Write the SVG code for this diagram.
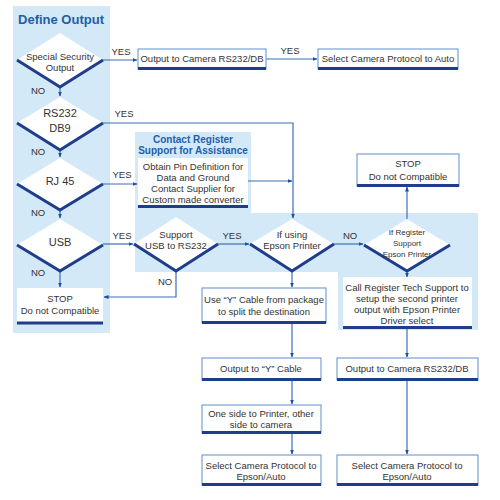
<svg xmlns="http://www.w3.org/2000/svg" width="500" height="500" viewBox="0 0 500 500">
<defs>
<marker id="ah" viewBox="0 0 10 10" refX="9" refY="5" markerWidth="5" markerHeight="5" orient="auto" markerUnits="userSpaceOnUse">
<path d="M0,1 L10,5 L0,9 z" fill="#1f4f9c"/>
</marker>
<style>
.panel{fill:#d3e9f8}
.box{fill:#fff;stroke:#5d8fcb;stroke-width:1}
.plain{fill:#fff}
.base{stroke:#1e3d8c;stroke-width:3;fill:none}
.dia{fill:#fff}
.dedge{stroke:#1e3d8c;stroke-width:3;fill:none;stroke-linejoin:miter}
.t{font-family:"Liberation Sans",Arial,sans-serif;font-size:9.5px;fill:#333;text-anchor:middle}
.tb{font-family:"Liberation Sans",Arial,sans-serif;font-size:11px;fill:#333;text-anchor:middle}
.ts{font-family:"Liberation Sans",Arial,sans-serif;font-size:8px;fill:#333;text-anchor:middle}
.lbl{font-family:"Liberation Sans",Arial,sans-serif;font-size:9.5px;fill:#333;text-anchor:middle}
.title{font-family:"Liberation Sans",Arial,sans-serif;font-weight:bold;fill:#1f5ea8}
.c{stroke:#3d6fb6;stroke-width:1.2;fill:none;marker-end:url(#ah)}
</style>
</defs>
<rect width="500" height="500" fill="#fff"/>
<g id="panels">
<rect class="panel" x="13" y="6" width="97" height="327"/>
<rect class="panel" x="135" y="132" width="116" height="82"/>
<rect class="panel" x="135" y="213" width="343" height="59"/>
<rect class="panel" x="338" y="213" width="140" height="117"/>
<text class="title" x="61" y="24" font-size="13" text-anchor="middle">Define Output</text>
<text class="title" x="193" y="143" font-size="10" text-anchor="middle">Contact Register</text>
<text class="title" x="193" y="154" font-size="10" text-anchor="middle">Support for Assistance</text>
</g>
<g id="connectors">
<path class="c" d="M103,60 H137"/>
<path class="c" d="M266,59 H317"/>
<path class="c" d="M60,87 V96"/>
<path class="c" d="M103,123 H293 V218"/>
<path class="c" d="M60,150 V157"/>
<path class="c" d="M103,184 H137"/>
<path class="c" d="M248,181 H292"/>
<path class="c" d="M60,210 V218"/>
<path class="c" d="M103,244 H133"/>
<path class="c" d="M60,271 V287"/>
<path class="c" d="M176,271 V297 H104"/>
<path class="c" d="M218,244 H249"/>
<path class="c" d="M334,244 H363"/>
<path class="c" d="M407,219 V187"/>
<path class="c" d="M407,271 V277"/>
<path class="c" d="M292,271 V287"/>
<path class="c" d="M292,323 V357"/>
<path class="c" d="M292,380 V404"/>
<path class="c" d="M292,433 V454"/>
<path class="c" d="M407,329 V357"/>
<path class="c" d="M407,380 V454"/>
<text class="lbl" x="121" y="55">YES</text>
<text class="lbl" x="290" y="54">YES</text>
<text class="lbl" x="38" y="94">NO</text>
<text class="lbl" x="124" y="117">YES</text>
<text class="lbl" x="38" y="155">NO</text>
<text class="lbl" x="122" y="178">YES</text>
<text class="lbl" x="38" y="216">NO</text>
<text class="lbl" x="122" y="239">YES</text>
<text class="lbl" x="38" y="276">NO</text>
<text class="lbl" x="165" y="285">NO</text>
<text class="lbl" x="232" y="239">YES</text>
<text class="lbl" x="350" y="239">NO</text>
</g>
<g id="d-special">
<polygon class="dia" points="60,33 103,60 60,87 17,60"/>
<polyline class="dedge" points="17,60 60,87 103,60"/>
<text class="t" x="60" y="60">Special Security</text>
<text class="t" x="60" y="71">Output</text>
</g>
<g id="d-rs232">
<polygon class="dia" points="60,97 103,123 60,150 17,123"/>
<polyline class="dedge" points="17,123 60,150 103,123"/>
<text class="tb" x="60" y="117">RS232</text>
<text class="tb" x="60" y="132">DB9</text>
</g>
<g id="d-rj45">
<polygon class="dia" points="60,158 103,184 60,210 17,184"/>
<polyline class="dedge" points="17,184 60,210 103,184"/>
<text class="tb" x="60" y="185">RJ 45</text>
</g>
<g id="d-usb">
<polygon class="dia" points="60,219 103,245 60,271 17,245"/>
<polyline class="dedge" points="17,245 60,271 103,245"/>
<text class="tb" x="60" y="246">USB</text>
</g>
<g id="stop-left">
<rect class="plain" x="17" y="288" width="86" height="36"/>
<line class="base" x1="17" y1="323" x2="103" y2="323"/>
<text class="t" x="60" y="302" font-size="10">STOP</text>
<text class="t" x="60" y="314" font-size="10">Do not Compatible</text>
</g>
<g id="out-cam-1">
<rect class="box" x="138" y="49" width="128" height="20"/>
<line class="base" x1="138" y1="68.5" x2="266" y2="68.5"/>
<text class="t" x="202" y="62">Output to Camera RS232/DB</text>
</g>
<g id="sel-auto">
<rect class="box" x="318" y="49" width="140" height="20"/>
<line class="base" x1="318" y1="68.5" x2="458" y2="68.5"/>
<text class="t" x="388" y="62">Select Camera Protocol to Auto</text>
</g>
<g id="contact">
<rect class="plain" x="138" y="158" width="110" height="49"/>
<line class="base" x1="138" y1="206.5" x2="248" y2="206.5"/>
<text class="t" x="193" y="170">Obtain Pin Definition for</text>
<text class="t" x="193" y="181">Data and Ground</text>
<text class="t" x="193" y="192">Contact Supplier for</text>
<text class="t" x="193" y="203">Custom made converter</text>
</g>
<g id="d-support">
<polygon class="dia" points="176,217 218,244 176,271 134,244"/>
<polyline class="dedge" points="134,244 176,271 218,244"/>
<text class="t" x="176" y="238">Support</text>
<text class="t" x="176" y="249">USB to RS232</text>
</g>
<g id="d-ifusing">
<polygon class="dia" points="292,219 334,244 292,271 250,244"/>
<polyline class="dedge" points="250,244 292,271 334,244"/>
<text class="t" x="292" y="238">If using</text>
<text class="t" x="292" y="249">Epson Printer</text>
</g>
<g id="d-ifregister">
<polygon class="dia" points="407,219 450,245 407,271 364,245"/>
<polyline class="dedge" points="364,245 407,271 450,245"/>
<text class="ts" x="407" y="235">If Register</text>
<text class="ts" x="407" y="246">Support</text>
<text class="ts" x="407" y="257">Epson Printer</text>
</g>
<g id="stop-right">
<rect class="box" x="357" y="154" width="102" height="32"/>
<line class="base" x1="357" y1="185.5" x2="459" y2="185.5"/>
<text class="t" x="408" y="167" font-size="10">STOP</text>
<text class="t" x="408" y="180" font-size="10">Do not Compatible</text>
</g>
<g id="call-register">
<rect class="plain" x="343" y="277" width="129" height="51"/>
<line class="base" x1="343" y1="327.5" x2="472" y2="327.5"/>
<text class="t" x="407" y="291">Call Register Tech Support to</text>
<text class="t" x="407" y="302">setup the second printer</text>
<text class="t" x="407" y="313">output with Epson Printer</text>
<text class="t" x="407" y="324">Driver select</text>
</g>
<g id="use-y">
<rect class="box" x="202" y="288" width="124" height="35"/>
<line class="base" x1="202" y1="322.5" x2="326" y2="322.5"/>
<text class="t" x="264" y="303">Use “Y” Cable from package</text>
<text class="t" x="264" y="315">to split the destination</text>
</g>
<g id="out-y">
<rect class="box" x="202" y="358" width="119" height="22"/>
<line class="base" x1="202" y1="379.5" x2="321" y2="379.5"/>
<text class="t" x="261" y="372">Output to “Y” Cable</text>
</g>
<g id="one-side">
<rect class="box" x="202" y="405" width="119" height="28"/>
<line class="base" x1="202" y1="432.5" x2="321" y2="432.5"/>
<text class="t" x="261" y="417">One side to Printer, other</text>
<text class="t" x="261" y="428">side to camera</text>
</g>
<g id="sel-left">
<rect class="box" x="202" y="455" width="119" height="30"/>
<line class="base" x1="202" y1="484.5" x2="321" y2="484.5"/>
<text class="t" x="261" y="469">Select Camera Protocol to</text>
<text class="t" x="261" y="480">Epson/Auto</text>
</g>
<g id="out-cam-2">
<rect class="box" x="337" y="358" width="141" height="22"/>
<line class="base" x1="337" y1="379.5" x2="478" y2="379.5"/>
<text class="t" x="407" y="372">Output to Camera RS232/DB</text>
</g>
<g id="sel-right">
<rect class="box" x="337" y="455" width="141" height="30"/>
<line class="base" x1="337" y1="484.5" x2="478" y2="484.5"/>
<text class="t" x="407" y="469">Select Camera Protocol to</text>
<text class="t" x="407" y="480">Epson/Auto</text>
</g>
</svg>
